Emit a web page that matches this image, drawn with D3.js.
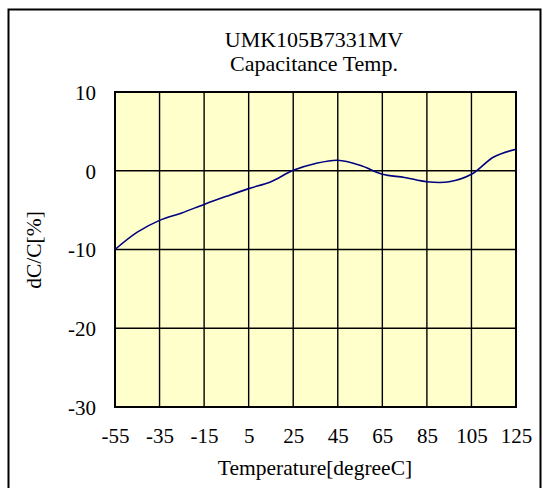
<!DOCTYPE html>
<html>
<head>
<meta charset="utf-8">
<script src="https://cdn.jsdelivr.net/npm/d3@7/dist/d3.min.js"></script>
<style>
  html, body { margin: 0; padding: 0; background: #fff; }
  svg { display: block; font-family: "Liberation Serif", "Times New Roman", serif; }
</style>
</head>
<body>
<svg id="chart" width="543" height="488"></svg>
<script>
const width = 543;
const height = 488;

// data
const temps = [-55, -45, -35, -25, -15, -5, 5, 15, 25, 35, 45, 55, 65, 75, 85, 95, 105, 115, 125];
const dcc = [-10, -7.8, -6.3, -5.35, -4.27, -3.25, -2.27, -1.4, 0.05, 0.92, 1.34, 0.7, -0.45, -0.85, -1.4, -1.4, -0.45, 1.75, 2.74];
const xTicks = [-55, -35, -15, 5, 25, 45, 65, 85, 105, 125];
const yTicks = [-30, -20, -10, 0, 10];
const titleLines = ["UMK105B7331MV", "Capacitance Temp."];
const xTitle = "Temperature[degreeC]";
const yTitle = "dC/C[%]";

const plot = { left: 115, top: 92, right: 516, bottom: 407 };

const svg = d3.select("#chart");

// outer frame
svg.append("rect")
  .attr("x", 8.5).attr("y", 9.5)
  .attr("width", 532).attr("height", 500)
  .attr("fill", "none")
  .attr("stroke", "#000")
  .attr("stroke-width", 2);

const x = d3.scaleLinear().domain([-55, 125]).range([plot.left, plot.right]);
const y = d3.scaleLinear().domain([-30, 10]).range([plot.bottom, plot.top]);

svg.append("rect")
  .attr("x", plot.left).attr("y", plot.top)
  .attr("width", plot.right - plot.left)
  .attr("height", plot.bottom - plot.top)
  .attr("fill", "#ffffcc");

// grid
const grid = svg.append("g").attr("stroke", "#000").attr("stroke-width", 1.4);
grid.selectAll("line.v")
  .data(xTicks)
  .join("line")
  .attr("class", "v")
  .attr("x1", d => x(d)).attr("x2", d => x(d))
  .attr("y1", plot.top).attr("y2", plot.bottom);
grid.selectAll("line.h")
  .data(yTicks)
  .join("line")
  .attr("class", "h")
  .attr("x1", plot.left).attr("x2", plot.right)
  .attr("y1", d => y(d)).attr("y2", d => y(d));

svg.append("rect")
  .attr("x", plot.left).attr("y", plot.top)
  .attr("width", plot.right - plot.left)
  .attr("height", plot.bottom - plot.top)
  .attr("fill", "none")
  .attr("stroke", "#000")
  .attr("stroke-width", 2);

// curve
const line = d3.line()
  .x((d, i) => x(temps[i]))
  .y(d => y(d))
  .curve(d3.curveCatmullRom.alpha(0.5));

svg.append("path")
  .datum(dcc)
  .attr("d", line)
  .attr("fill", "none")
  .attr("stroke", "#000080")
  .attr("stroke-width", 1.6);

// axes (plain hyphen for negatives, like the original)
const plain = d => String(d);

const xAxis = svg.append("g")
  .attr("transform", `translate(0,${plot.bottom})`)
  .call(d3.axisBottom(x).tickValues(xTicks).tickFormat(plain).tickSize(0).tickPadding(36));
xAxis.select(".domain").remove();
xAxis.selectAll("text")
  .attr("font-size", 21)
  .attr("font-family", "Liberation Serif")
  .attr("fill", "#000")
  .attr("dy", 0);

const yAxis = svg.append("g")
  .attr("transform", `translate(${plot.left},0)`)
  .call(d3.axisLeft(y).tickValues(yTicks).tickFormat(plain).tickSize(0).tickPadding(19));
yAxis.select(".domain").remove();
yAxis.selectAll("text")
  .attr("font-size", 21)
  .attr("font-family", "Liberation Serif")
  .attr("fill", "#000")
  .attr("dy", "0.35em");

// titles
svg.selectAll("text.title")
  .data(titleLines)
  .join("text")
  .attr("class", "title")
  .attr("x", 314)
  .attr("y", (d, i) => 47 + i * 24)
  .attr("text-anchor", "middle")
  .attr("font-size", 22)
  .text(d => d);

svg.append("text")
  .attr("x", 315)
  .attr("y", 475)
  .attr("text-anchor", "middle")
  .attr("font-size", 21.5)
  .text(xTitle);

svg.append("text")
  .attr("transform", "translate(41,250) rotate(-90)")
  .attr("text-anchor", "middle")
  .attr("font-size", 21.5)
  .text(yTitle);
</script>
</body>
</html>
